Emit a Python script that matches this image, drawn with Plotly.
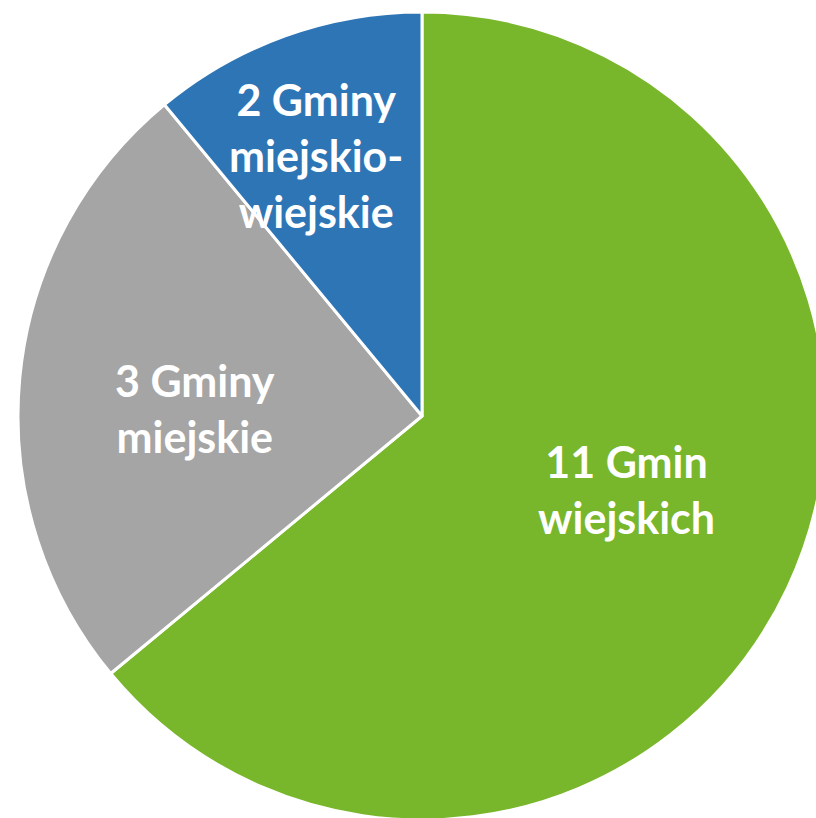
import plotly.graph_objects as go

# Data (drawn clockwise from 12 o'clock)
categories = ["Gminy wiejskie", "Gminy miejskie", "Gminy miejsko-wiejskie"]
counts = [11, 3, 2]
shares = [64, 25, 11]
colors = ["#78B62B", "#A5A5A5", "#2E75B6"]
label_lines = [
    ["11 Gmin", "wiejskich"],
    ["3 Gminy", "miejskie"],
    ["2 Gminy", "miejskio-", "wiejskie"],
]

W, H = 846, 820
cx, cy, r = 422, 416, 404

fig = go.Figure(go.Pie(
    labels=categories,
    values=shares,
    sort=False,
    direction="clockwise",
    rotation=0,
    marker=dict(colors=colors, line=dict(color="white", width=3)),
    textinfo="none",
    hoverinfo="label+value",
    domain=dict(x=[(cx - r) / W, (cx + r) / W], y=[1 - (cy + r) / H, 1 - (cy - r) / H]),
    showlegend=False,
))

label_pos = [(626, 489), (195, 408), (316, 156)]
for lines, (px, py) in zip(label_lines, label_pos):
    fig.add_annotation(
        x=px / W, y=1 - py / H, xref="paper", yref="paper",
        xanchor="center", yanchor="middle",
        text="<br>".join(lines), showarrow=False,
        font=dict(family="Lato", size=43, color="white", weight="bold"),
        align="center",
    )

fig.update_layout(
    width=W, height=H, autosize=False,
    margin=dict(l=0, r=0, t=0, b=0),
    paper_bgcolor="white", plot_bgcolor="white",
)

fig.write_html("out.html", config={"displayModeBar": False},
               post_script="document.body.style.margin='0';document.body.style.overflow='hidden';")
